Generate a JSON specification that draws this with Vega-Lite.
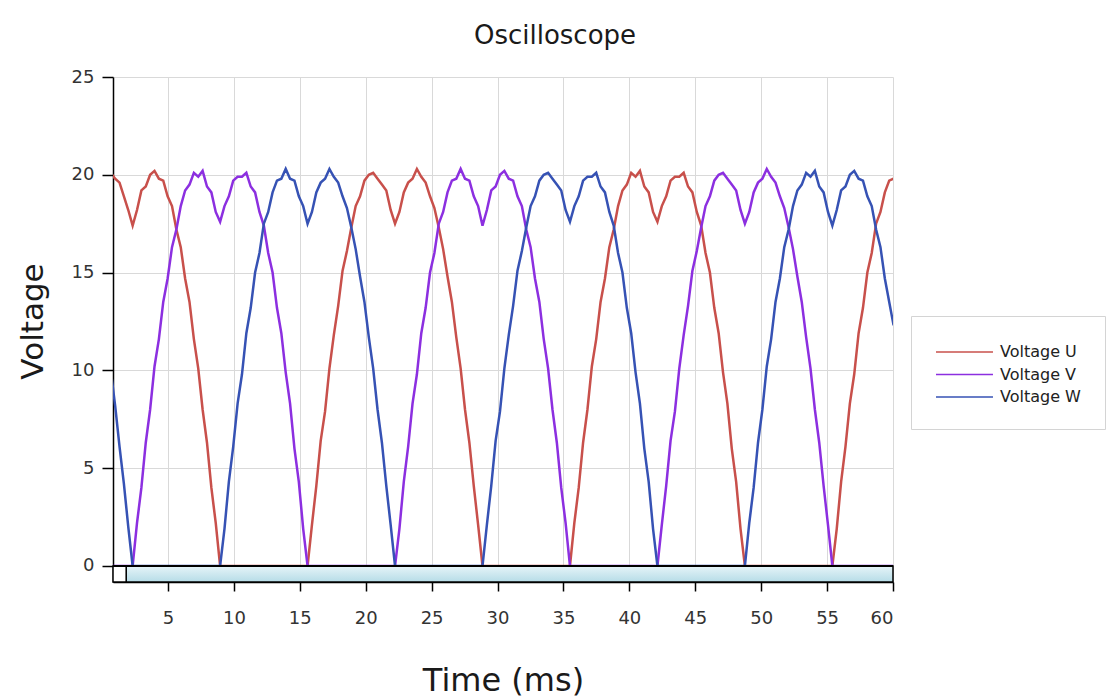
{
  "$schema": "https://vega.github.io/schema/vega-lite/v6.json",
  "width": 780,
  "height": 505,
  "autosize": {"type": "none"},
  "padding": {"left": 113, "top": 77, "right": 215, "bottom": 115},
  "background": "white",
  "title": {
    "text": "Oscilloscope",
    "font": "DejaVu Sans",
    "fontSize": 26,
    "fontWeight": "normal",
    "color": "#1a1a1a",
    "anchor": "middle",
    "dx": 52,
    "offset": 19
  },
  "config": {
    "view": {"stroke": null},
    "axis": {
      "labelFont": "DejaVu Sans",
      "titleFont": "DejaVu Sans",
      "labelFontSize": 18,
      "labelColor": "#333333",
      "titleColor": "#1a1a1a",
      "titleFontWeight": "normal",
      "domainColor": "#000000",
      "domainWidth": 1.5,
      "tickColor": "#000000",
      "tickWidth": 1.5,
      "gridColor": "#d9d9d9",
      "gridWidth": 1
    },
    "axisX": {"tickSize": 9, "labelPadding": 18, "titlePadding": 38, "titleFontSize": 32},
    "axisY": {"tickSize": 11, "labelPadding": 8, "titlePadding": 22, "titleFontSize": 31, "titleY": 244}
  },
  "layer": [
    {
      "data": {
        "values": [
          {"t": 0.661, "U": 20.1, "V": 0, "W": 10.0},
          {"t": 0.993, "U": 19.8, "V": 0, "W": 8.2},
          {"t": 1.325, "U": 19.6, "V": 0, "W": 6.1},
          {"t": 1.657, "U": 18.9, "V": 0, "W": 4.2},
          {"t": 1.988, "U": 18.2, "V": 0, "W": 2.0},
          {"t": 2.320, "U": 17.4, "V": 0, "W": 0},
          {"t": 2.652, "U": 18.2, "V": 2.2, "W": 0},
          {"t": 2.984, "U": 19.2, "V": 4.0, "W": 0},
          {"t": 3.315, "U": 19.4, "V": 6.3, "W": 0},
          {"t": 3.647, "U": 20.0, "V": 8.0, "W": 0},
          {"t": 3.979, "U": 20.2, "V": 10.2, "W": 0},
          {"t": 4.311, "U": 19.8, "V": 11.6, "W": 0},
          {"t": 4.642, "U": 19.7, "V": 13.5, "W": 0},
          {"t": 4.974, "U": 18.9, "V": 14.7, "W": 0},
          {"t": 5.306, "U": 18.4, "V": 16.3, "W": 0},
          {"t": 5.638, "U": 17.2, "V": 17.2, "W": 0},
          {"t": 5.969, "U": 16.3, "V": 18.4, "W": 0},
          {"t": 6.301, "U": 14.7, "V": 19.2, "W": 0},
          {"t": 6.633, "U": 13.5, "V": 19.5, "W": 0},
          {"t": 6.965, "U": 11.6, "V": 20.1, "W": 0},
          {"t": 7.296, "U": 10.1, "V": 19.9, "W": 0},
          {"t": 7.628, "U": 8.0, "V": 20.2, "W": 0},
          {"t": 7.960, "U": 6.3, "V": 19.4, "W": 0},
          {"t": 8.292, "U": 4.0, "V": 19.1, "W": 0},
          {"t": 8.623, "U": 2.2, "V": 18.1, "W": 0},
          {"t": 8.955, "U": 0, "V": 17.6, "W": 0},
          {"t": 9.287, "U": 0, "V": 18.4, "W": 1.9},
          {"t": 9.619, "U": 0, "V": 18.9, "W": 4.3},
          {"t": 9.950, "U": 0, "V": 19.7, "W": 6.1},
          {"t": 10.282, "U": 0, "V": 19.9, "W": 8.3},
          {"t": 10.614, "U": 0, "V": 19.9, "W": 9.8},
          {"t": 10.946, "U": 0, "V": 20.1, "W": 11.9},
          {"t": 11.277, "U": 0, "V": 19.4, "W": 13.2},
          {"t": 11.609, "U": 0, "V": 19.1, "W": 15.0},
          {"t": 11.941, "U": 0, "V": 18.1, "W": 16.0},
          {"t": 12.273, "U": 0, "V": 17.4, "W": 17.5},
          {"t": 12.604, "U": 0, "V": 16.0, "W": 18.1},
          {"t": 12.936, "U": 0, "V": 15.0, "W": 19.1},
          {"t": 13.268, "U": 0, "V": 13.2, "W": 19.7},
          {"t": 13.600, "U": 0, "V": 11.9, "W": 19.8},
          {"t": 13.931, "U": 0, "V": 9.9, "W": 20.3},
          {"t": 14.263, "U": 0, "V": 8.3, "W": 19.8},
          {"t": 14.595, "U": 0, "V": 6.0, "W": 19.7},
          {"t": 14.927, "U": 0, "V": 4.3, "W": 18.9},
          {"t": 15.258, "U": 0, "V": 1.9, "W": 18.4},
          {"t": 15.590, "U": 0, "V": 0, "W": 17.5},
          {"t": 15.922, "U": 2.1, "V": 0, "W": 18.1},
          {"t": 16.254, "U": 4.1, "V": 0, "W": 19.1},
          {"t": 16.585, "U": 6.4, "V": 0, "W": 19.6},
          {"t": 16.917, "U": 7.9, "V": 0, "W": 19.8},
          {"t": 17.249, "U": 10.1, "V": 0, "W": 20.3},
          {"t": 17.581, "U": 11.8, "V": 0, "W": 19.9},
          {"t": 17.912, "U": 13.3, "V": 0, "W": 19.6},
          {"t": 18.244, "U": 15.1, "V": 0, "W": 18.9},
          {"t": 18.576, "U": 16.1, "V": 0, "W": 18.3},
          {"t": 18.908, "U": 17.3, "V": 0, "W": 17.3},
          {"t": 19.239, "U": 18.4, "V": 0, "W": 16.2},
          {"t": 19.571, "U": 18.9, "V": 0, "W": 14.8},
          {"t": 19.903, "U": 19.7, "V": 0, "W": 13.5},
          {"t": 20.235, "U": 20.0, "V": 0, "W": 11.7},
          {"t": 20.566, "U": 20.1, "V": 0, "W": 10.1},
          {"t": 20.898, "U": 19.8, "V": 0, "W": 8.0},
          {"t": 21.230, "U": 19.5, "V": 0, "W": 6.3},
          {"t": 21.562, "U": 19.2, "V": 0, "W": 4.1},
          {"t": 21.893, "U": 18.2, "V": 0, "W": 2.1},
          {"t": 22.225, "U": 17.5, "V": 0, "W": 0},
          {"t": 22.557, "U": 18.1, "V": 1.9, "W": 0},
          {"t": 22.889, "U": 19.1, "V": 4.3, "W": 0},
          {"t": 23.220, "U": 19.6, "V": 6.1, "W": 0},
          {"t": 23.552, "U": 19.8, "V": 8.3, "W": 0},
          {"t": 23.884, "U": 20.3, "V": 9.8, "W": 0},
          {"t": 24.216, "U": 19.9, "V": 11.9, "W": 0},
          {"t": 24.547, "U": 19.6, "V": 13.2, "W": 0},
          {"t": 24.879, "U": 18.9, "V": 15.0, "W": 0},
          {"t": 25.211, "U": 18.3, "V": 16.0, "W": 0},
          {"t": 25.543, "U": 17.3, "V": 17.5, "W": 0},
          {"t": 25.874, "U": 16.2, "V": 18.1, "W": 0},
          {"t": 26.206, "U": 14.8, "V": 19.1, "W": 0},
          {"t": 26.538, "U": 13.5, "V": 19.7, "W": 0},
          {"t": 26.870, "U": 11.7, "V": 19.8, "W": 0},
          {"t": 27.201, "U": 10.1, "V": 20.3, "W": 0},
          {"t": 27.533, "U": 8.0, "V": 19.8, "W": 0},
          {"t": 27.865, "U": 6.3, "V": 19.7, "W": 0},
          {"t": 28.197, "U": 4.1, "V": 18.9, "W": 0},
          {"t": 28.528, "U": 2.1, "V": 18.4, "W": 0},
          {"t": 28.860, "U": 0, "V": 17.4, "W": 0},
          {"t": 29.192, "U": 0, "V": 18.2, "W": 2.1},
          {"t": 29.524, "U": 0, "V": 19.2, "W": 4.1},
          {"t": 29.855, "U": 0, "V": 19.4, "W": 6.4},
          {"t": 30.187, "U": 0, "V": 20.0, "W": 7.9},
          {"t": 30.519, "U": 0, "V": 20.2, "W": 10.1},
          {"t": 30.851, "U": 0, "V": 19.8, "W": 11.8},
          {"t": 31.182, "U": 0, "V": 19.7, "W": 13.3},
          {"t": 31.514, "U": 0, "V": 18.9, "W": 15.1},
          {"t": 31.846, "U": 0, "V": 18.4, "W": 16.1},
          {"t": 32.178, "U": 0, "V": 17.2, "W": 17.3},
          {"t": 32.509, "U": 0, "V": 16.3, "W": 18.4},
          {"t": 32.841, "U": 0, "V": 14.7, "W": 18.9},
          {"t": 33.173, "U": 0, "V": 13.5, "W": 19.7},
          {"t": 33.505, "U": 0, "V": 11.6, "W": 20.0},
          {"t": 33.836, "U": 0, "V": 10.1, "W": 20.1},
          {"t": 34.168, "U": 0, "V": 8.0, "W": 19.8},
          {"t": 34.500, "U": 0, "V": 6.3, "W": 19.5},
          {"t": 34.832, "U": 0, "V": 4.0, "W": 19.2},
          {"t": 35.163, "U": 0, "V": 2.2, "W": 18.2},
          {"t": 35.495, "U": 0, "V": 0, "W": 17.6},
          {"t": 35.827, "U": 2.2, "V": 0, "W": 18.4},
          {"t": 36.159, "U": 4.0, "V": 0, "W": 18.9},
          {"t": 36.490, "U": 6.3, "V": 0, "W": 19.7},
          {"t": 36.822, "U": 8.0, "V": 0, "W": 19.9},
          {"t": 37.154, "U": 10.2, "V": 0, "W": 19.9},
          {"t": 37.486, "U": 11.6, "V": 0, "W": 20.1},
          {"t": 37.817, "U": 13.5, "V": 0, "W": 19.4},
          {"t": 38.149, "U": 14.7, "V": 0, "W": 19.1},
          {"t": 38.481, "U": 16.3, "V": 0, "W": 18.1},
          {"t": 38.813, "U": 17.2, "V": 0, "W": 17.4},
          {"t": 39.144, "U": 18.4, "V": 0, "W": 16.0},
          {"t": 39.476, "U": 19.2, "V": 0, "W": 15.0},
          {"t": 39.808, "U": 19.5, "V": 0, "W": 13.2},
          {"t": 40.140, "U": 20.1, "V": 0, "W": 11.9},
          {"t": 40.471, "U": 19.9, "V": 0, "W": 9.9},
          {"t": 40.803, "U": 20.2, "V": 0, "W": 8.3},
          {"t": 41.135, "U": 19.4, "V": 0, "W": 6.0},
          {"t": 41.467, "U": 19.1, "V": 0, "W": 4.3},
          {"t": 41.798, "U": 18.1, "V": 0, "W": 1.9},
          {"t": 42.130, "U": 17.6, "V": 0, "W": 0},
          {"t": 42.462, "U": 18.4, "V": 2.1, "W": 0},
          {"t": 42.794, "U": 18.9, "V": 4.1, "W": 0},
          {"t": 43.125, "U": 19.7, "V": 6.4, "W": 0},
          {"t": 43.457, "U": 19.9, "V": 7.9, "W": 0},
          {"t": 43.789, "U": 19.9, "V": 10.1, "W": 0},
          {"t": 44.121, "U": 20.1, "V": 11.8, "W": 0},
          {"t": 44.452, "U": 19.4, "V": 13.3, "W": 0},
          {"t": 44.784, "U": 19.1, "V": 15.1, "W": 0},
          {"t": 45.116, "U": 18.1, "V": 16.1, "W": 0},
          {"t": 45.448, "U": 17.4, "V": 17.3, "W": 0},
          {"t": 45.779, "U": 16.0, "V": 18.4, "W": 0},
          {"t": 46.111, "U": 15.0, "V": 18.9, "W": 0},
          {"t": 46.443, "U": 13.2, "V": 19.7, "W": 0},
          {"t": 46.775, "U": 11.9, "V": 20.0, "W": 0},
          {"t": 47.106, "U": 9.9, "V": 20.1, "W": 0},
          {"t": 47.438, "U": 8.3, "V": 19.8, "W": 0},
          {"t": 47.770, "U": 6.0, "V": 19.5, "W": 0},
          {"t": 48.102, "U": 4.3, "V": 19.2, "W": 0},
          {"t": 48.433, "U": 1.9, "V": 18.2, "W": 0},
          {"t": 48.765, "U": 0, "V": 17.5, "W": 0},
          {"t": 49.097, "U": 0, "V": 18.1, "W": 2.2},
          {"t": 49.429, "U": 0, "V": 19.1, "W": 4.0},
          {"t": 49.760, "U": 0, "V": 19.6, "W": 6.3},
          {"t": 50.092, "U": 0, "V": 19.8, "W": 8.0},
          {"t": 50.424, "U": 0, "V": 20.3, "W": 10.2},
          {"t": 50.756, "U": 0, "V": 19.9, "W": 11.6},
          {"t": 51.087, "U": 0, "V": 19.6, "W": 13.5},
          {"t": 51.419, "U": 0, "V": 18.9, "W": 14.7},
          {"t": 51.751, "U": 0, "V": 18.3, "W": 16.3},
          {"t": 52.083, "U": 0, "V": 17.3, "W": 17.2},
          {"t": 52.414, "U": 0, "V": 16.2, "W": 18.4},
          {"t": 52.746, "U": 0, "V": 14.8, "W": 19.2},
          {"t": 53.078, "U": 0, "V": 13.5, "W": 19.5},
          {"t": 53.410, "U": 0, "V": 11.7, "W": 20.1},
          {"t": 53.741, "U": 0, "V": 10.1, "W": 19.9},
          {"t": 54.073, "U": 0, "V": 8.0, "W": 20.2},
          {"t": 54.405, "U": 0, "V": 6.3, "W": 19.4},
          {"t": 54.737, "U": 0, "V": 4.1, "W": 19.1},
          {"t": 55.068, "U": 0, "V": 2.1, "W": 18.1},
          {"t": 55.400, "U": 0, "V": 0, "W": 17.4},
          {"t": 55.732, "U": 1.9, "V": 0, "W": 18.2},
          {"t": 56.064, "U": 4.3, "V": 0, "W": 19.2},
          {"t": 56.395, "U": 6.1, "V": 0, "W": 19.4},
          {"t": 56.727, "U": 8.3, "V": 0, "W": 20.0},
          {"t": 57.059, "U": 9.8, "V": 0, "W": 20.2},
          {"t": 57.391, "U": 11.9, "V": 0, "W": 19.8},
          {"t": 57.722, "U": 13.2, "V": 0, "W": 19.7},
          {"t": 58.054, "U": 15.0, "V": 0, "W": 18.9},
          {"t": 58.386, "U": 16.0, "V": 0, "W": 18.4},
          {"t": 58.718, "U": 17.5, "V": 0, "W": 17.2},
          {"t": 59.049, "U": 18.1, "V": 0, "W": 16.3},
          {"t": 59.381, "U": 19.1, "V": 0, "W": 14.7},
          {"t": 59.713, "U": 19.7, "V": 0, "W": 13.5},
          {"t": 60.045, "U": 19.8, "V": 0, "W": 12.3}
        ]
      },
      "transform": [{"fold": ["U", "V", "W"], "as": ["series", "voltage"]}],
      "mark": {"type": "line", "strokeWidth": 2.5, "clip": true},
      "encoding": {
        "x": {
          "field": "t",
          "type": "quantitative",
          "title": "Time (ms)",
          "scale": {"domain": [0.83, 60], "nice": false, "zero": false},
          "axis": {"values": [5, 10, 15, 20, 25, 30, 35, 40, 45, 50, 55, 60], "grid": true}
        },
        "y": {
          "field": "voltage",
          "type": "quantitative",
          "title": "Voltage",
          "scale": {"domain": [-0.82, 25], "nice": false, "zero": false},
          "axis": {"values": [0, 5, 10, 15, 20, 25], "grid": true}
        },
        "color": {
          "field": "series",
          "type": "nominal",
          "scale": {"domain": ["U", "V", "W"], "range": ["#c8504b", "#8c2fe0", "#3652b4"]},
          "legend": {
            "title": null,
            "orient": "none",
            "legendX": 798,
            "legendY": 239,
            "direction": "vertical",
            "padding": 24,
            "strokeColor": "#d4d4d4",
            "fillColor": "#ffffff",
            "symbolType": "M-1,0H4.18",
            "symbolSize": 484,
            "symbolStrokeWidth": 1.5,
            "labelFont": "DejaVu Sans",
            "labelFontSize": 16,
            "labelColor": "#222222",
            "labelOffset": 41,
            "rowPadding": 2.5,
            "labelExpr": "'Voltage ' + datum.label"
          }
        }
      }
    },
    {
      "data": {"values": [{}]},
      "mark": {
        "type": "rect",
        "stroke": "#000000",
        "strokeWidth": 1.5,
        "fill": {
          "gradient": "linear",
          "x1": 0, "y1": 0, "x2": 0, "y2": 1,
          "stops": [
            {"offset": 0, "color": "#e6f4f8"},
            {"offset": 1, "color": "#b6dce7"}
          ]
        }
      },
      "encoding": {
        "x": {"datum": 1.83, "type": "quantitative", "title": "Time (ms)"},
        "x2": {"datum": 60},
        "y": {"datum": 0, "type": "quantitative", "title": "Voltage"},
        "y2": {"datum": -0.82}
      }
    },
    {
      "data": {"values": [{}]},
      "mark": {"type": "rect", "stroke": "#000000", "strokeWidth": 1.5, "fill": "#ffffff"},
      "encoding": {
        "x": {"datum": 0.83, "type": "quantitative", "title": "Time (ms)"},
        "x2": {"datum": 1.83},
        "y": {"datum": 0, "type": "quantitative", "title": "Voltage"},
        "y2": {"datum": -0.82}
      }
    },
    {
      "data": {"values": [{}]},
      "mark": {"type": "rule", "color": "#000000", "strokeWidth": 2},
      "encoding": {
        "y": {"datum": 0, "type": "quantitative", "title": "Voltage"}
      }
    }
  ]
}
